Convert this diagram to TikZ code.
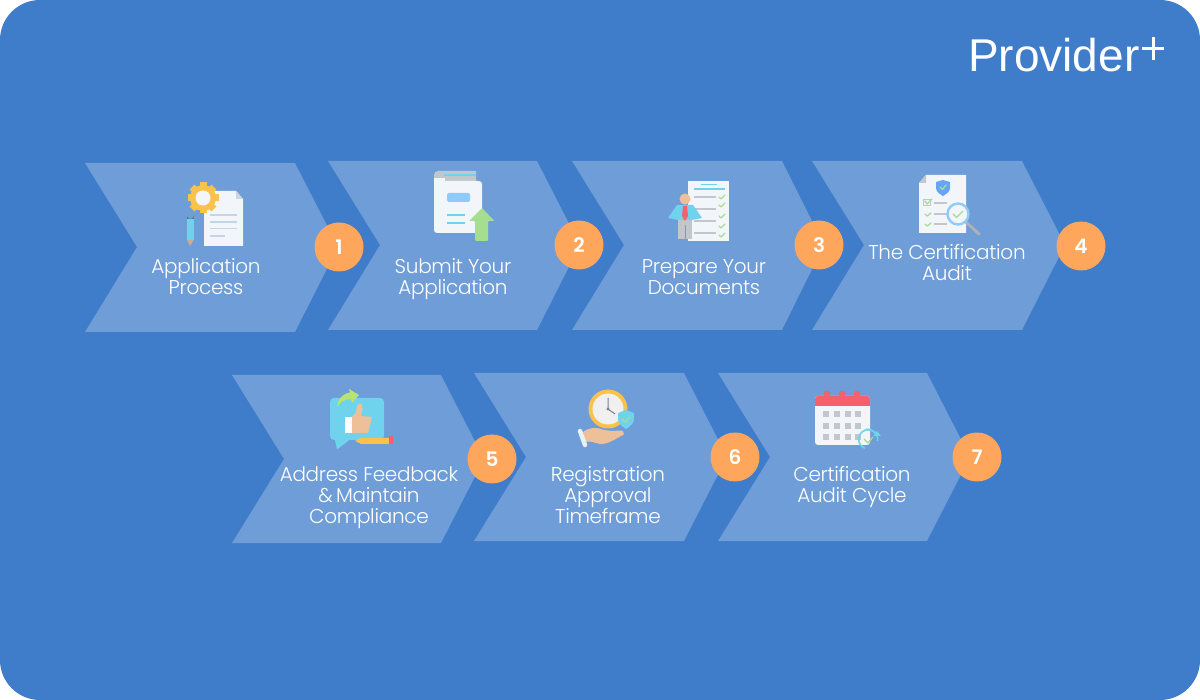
\documentclass[tikz,border=0pt]{standalone}
\usepackage{fontspec}
\setmainfont{Poppins}[UprightFont=* Light,BoldFont=* SemiBold,LetterSpace=-1.5]
\newfontfamily\logofont{Liberation Sans}
\definecolor{bgblue}{HTML}{3F7CCA}
\definecolor{chev}{HTML}{6E9DD8}
\definecolor{badge}{HTML}{FEA75C}
\definecolor{paper}{HTML}{F2F5F9}
\definecolor{cy}{HTML}{6FD3EE}
\definecolor{lcy}{HTML}{8FCBFA}
\definecolor{gy}{HTML}{C2C7CC}
\definecolor{gn}{HTML}{A5DE8E}
\definecolor{ylw}{HTML}{FAC24B}
\definecolor{rd}{HTML}{F4606E}
\definecolor{skin}{HTML}{EDC09A}
\tikzset{
 chevron/.style={fill=chev,draw=none},
 lab/.style={text=white,font=\fontsize{20}{21}\selectfont,align=center,inner sep=0pt},
 numdot/.style={circle,fill=badge,minimum size=49pt,inner sep=0pt,text=white,font=\fontsize{20}{20}\selectfont\bfseries},
 ln/.style={line width=1.4pt},
 tick/.style={draw=gn,line width=1.3pt,line cap=round,line join=round},
}
\begin{document}
\begin{tikzpicture}[x=1pt,y=-1pt]
\useasboundingbox (0,0) rectangle (1200,700);
\fill[white] (0,0) rectangle (1200,700);
\fill[bgblue,rounded corners=40pt] (0,0) rectangle (1200,700);
% chevrons
\fill[chevron] (85,163)--(295,163)--(338,247)--(295,332)--(85,332)--(137,247)--cycle;
\fill[chevron] (328,161)--(537,161)--(580,245)--(537,330)--(328,330)--(380,245)--cycle;
\fill[chevron] (572,161)--(782,161)--(824,245)--(782,330)--(572,330)--(624,245)--cycle;
\fill[chevron] (812,161)--(1022,161)--(1065,245)--(1022,330)--(812,330)--(864,245)--cycle;
\fill[chevron] (232,375)--(441,375)--(484,459)--(441,543)--(232,543)--(284,459)--cycle;
\fill[chevron] (474,373)--(684,373)--(727,457)--(684,541)--(474,541)--(526,457)--cycle;
\fill[chevron] (718,373)--(927,373)--(970,457)--(927,541)--(718,541)--(770,457)--cycle;
% labels
\node[lab] (l1) at (206,276.5) {Application\\Process};
\node[lab] (l2) at (453,279.5) {Submit Your\\Application};
\node[lab] (l3) at (704,277.5) {Prepare Your\\Documents};
\node[lab] (l4) at (947,262.5) {The Certification\\Audit};
\node[lab] (l5) at (369,498) {Address Feedback\\\&\,Maintain\\Compliance};
\node[lab] (l6) at (608,495) {Registration\\Approval\\Timeframe};
\node[lab] (l7) at (852,487) {Certification\\Audit Cycle};
% badges
\node[numdot] (n1) at (339,247) {1};
\node[numdot] (n2) at (579,245) {2};
\node[numdot] (n3) at (819,245) {3};
\node[numdot] (n4) at (1081,246) {4};
\node[numdot] (n5) at (492,459) {5};
\node[numdot] (n6) at (735,457) {6};
\node[numdot] (n7) at (977,457) {7};
% logo
\node[anchor=base west,inner sep=0pt,text=white,font=\logofont\fontsize{46}{46}\selectfont] (logo) at (968,72) {Provider};
\fill[white] (1142,47) rectangle (1164,50);
\fill[white] (1151.5,37) rectangle (1154.5,60);
% icon 1
\fill[paper] (204,191)--(236,191)--(243,199)--(243,246)--(204,246)--cycle;
\fill[gy!70!paper] (236,191)--(243,199)--(236,199)--cycle;
\foreach \yy/\xe in {215/237,222/237,228.5/237,236/225}{\draw[line width=1.2pt,draw=lcy!35!gy!70!paper] (210,\yy)--(\xe,\yy);}
\foreach \a in {0,45,...,315}{\fill[ylw,shift={(203,198)},rotate=\a] (12,-3.5) rectangle (15.5,3.5);}
\fill[ylw] (203,198) circle (13);
\fill[paper] (203,198) circle (7.5);
\fill[cy] (187,219) rectangle (193.5,240);
\fill[gray!80!black] (187,219)--(187,216) arc[start angle=180,end angle=0,radius=3.25]--(193.5,219)--cycle;
\fill[skin!70!gray] (187,240)--(193.5,240)--(190.2,246)--cycle;
% icon 2
\fill[gy] (434,175) arc[start angle=180,end angle=270,radius=4]--(476,171)--(476,185)--(434,185)--cycle;
\fill[cy] (444,174.5) rectangle (476,176.5);
\fill[paper,rounded corners=3pt] (434,181)--(482,181)--(482,233)--(434,233)--cycle;
\fill[paper] (434,178) rectangle (445,186);
\fill[lcy,rounded corners=2pt] (447,193) rectangle (470,202);
\draw[line width=2.2pt,cy] (447,215)--(465,215) (447,223)--(465,223);
\fill[gn,rounded corners=1pt] (482,208)--(494.5,221)--(488,221)--(488,241)--(475,241)--(475,221)--(469,221)--cycle;
% icon 3
\fill[paper] (688,181) rectangle (729,241);
\draw[line width=1.2pt,cy] (701,184.5)--(717,184.5);
\draw[line width=1.2pt,cy] (694,189)--(725,189);
\foreach \yy in {197,209,221,233}{\draw[ln,draw=gy] (694,\yy)--(716,\yy);}
\foreach \yy in {197,205,216,226,235}{\draw[tick] (719,\yy)--(721,\yy+2)--(725,\yy-2);}
\fill[gy] (678,220) rectangle (692,239);
\fill[chev] (684.5,225) rectangle (685.5,239);
\fill[cy] (668,218)--(677,205)--(693,205)--(702,218)--(692,220)--(678,220)--cycle;
\fill[rd] (683,206)--(687,206)--(688,216)--(685,221)--(682,216)--cycle;
\fill[skin] (685,199) circle (5.5);
% icon 4
\fill[paper] (926,175)--(966,175)--(966,233)--(919,233)--(919,183)--cycle;
\fill[gy] (926,175)--(926,183)--(919,183)--cycle;
\fill[cy!70!blue!85!white] (943,180)--(950,182)--(950,188) .. controls (950,192) and (946,194) .. (943,196) .. controls (940,194) and (936,192) .. (936,188)--(936,182)--cycle;
\draw[tick] (940,187)--(942.5,189.5)--(946,185);
\draw[draw=gy,line width=1pt] (923,199.5) rectangle (930,206);
\draw[tick] (925,201)--(927,204)--(932,199);
\draw[ln,draw=gy] (934,203)--(947,203) (934,214)--(947,214) (934,224)--(947,224);
\draw[tick] (925,214)--(927,216)--(931,213) (925,224)--(927,226)--(931,223);
\draw[line width=3pt,line cap=round,gy!70!gray] (966,222)--(979,234);
\fill[paper] (958,214) circle (10);
\draw[line width=2.4pt,lcy] (958,214) circle (10.5);
\draw[tick] (953,214)--(956.5,217.5)--(963,211);
% icon 5
\fill[cy,rounded corners=4pt] (330,398) rectangle (384,440);
\fill[cy] (334,436)--(352,438)--(337,449.5)--cycle;
\fill[gn!80!yellow] (337,407) .. controls (338,397) and (345,393) .. (350,392.5)--(349,389)--(359,395)--(352,403)--(351,399) .. controls (345,399) and (340,402) .. (337,407)--cycle;
\fill[white] (345,417) rectangle (352,433);
\fill[skin] (352,417)--(355.5,413)--(357.5,405) .. controls (360,402) and (363,404) .. (362.5,408)--(361,416)--(372,417)--(368,433)--(352,433)--cycle;
\fill[ylw] (361,438)--(389,438)--(389,444)--(361,444)--(355,441)--cycle;
\fill[rd] (389,436)--(393,436)--(393,444)--(389,444)--cycle;
% icon 6
\fill[ylw] (608,409) circle (19.5);
\fill[white!88!gray] (608,409) circle (15.5);
\draw[line width=1pt,gray] (608,398)--(608,409)--(615,414);
\fill[gray] (608,409) circle (1.6);
\fill[cy] (626,410)--(634,413)--(634,419) .. controls (634,424) and (629,427) .. (626,429) .. controls (623,427) and (618,424) .. (618,419)--(618,413)--cycle;
\draw[tick] (622,419)--(625,422)--(630,417);
\fill[skin] (583,432) .. controls (590,427) and (598,427) .. (604,430)--(612,431) .. controls (616,431) and (620,430) .. (623,431) .. controls (625,433) and (624,435) .. (621,436) .. controls (612,441) and (605,446) .. (596,443) .. controls (592,442) and (589,441) .. (585,442)--cycle;
\draw[line width=4.5pt,paper!90!lcy,line cap=round] (580,431)--(585,445);
% icon 7
\fill[paper,rounded corners=3pt] (815,396) rectangle (870,445);
\fill[rd,rounded corners=3pt] (815,396) rectangle (870,406);
\fill[rd] (815,402) rectangle (870,406);
\foreach \xx in {827,842,857}{\fill[rd,rounded corners=2pt] (\xx-3,391) rectangle (\xx+3,402);}
\foreach \xx in {826,837,848,858}{\foreach \yy in {414,426,437}{\fill[gy] (\xx-2.7,\yy-2.7) rectangle (\xx+2.7,\yy+2.7);}}
\draw[line width=1.6pt,cy] (877,436) arc[start angle=-20,end angle=-250,radius=9.5];
\draw[line width=1.6pt,cy] (877.5,441) arc[start angle=10,end angle=-100,radius=10];
\fill[cy] (873,436)--(881,436)--(877,431)--cycle;
\draw[tick] (864,439)--(868,443)--(873,437);
\end{tikzpicture}
\end{document}
